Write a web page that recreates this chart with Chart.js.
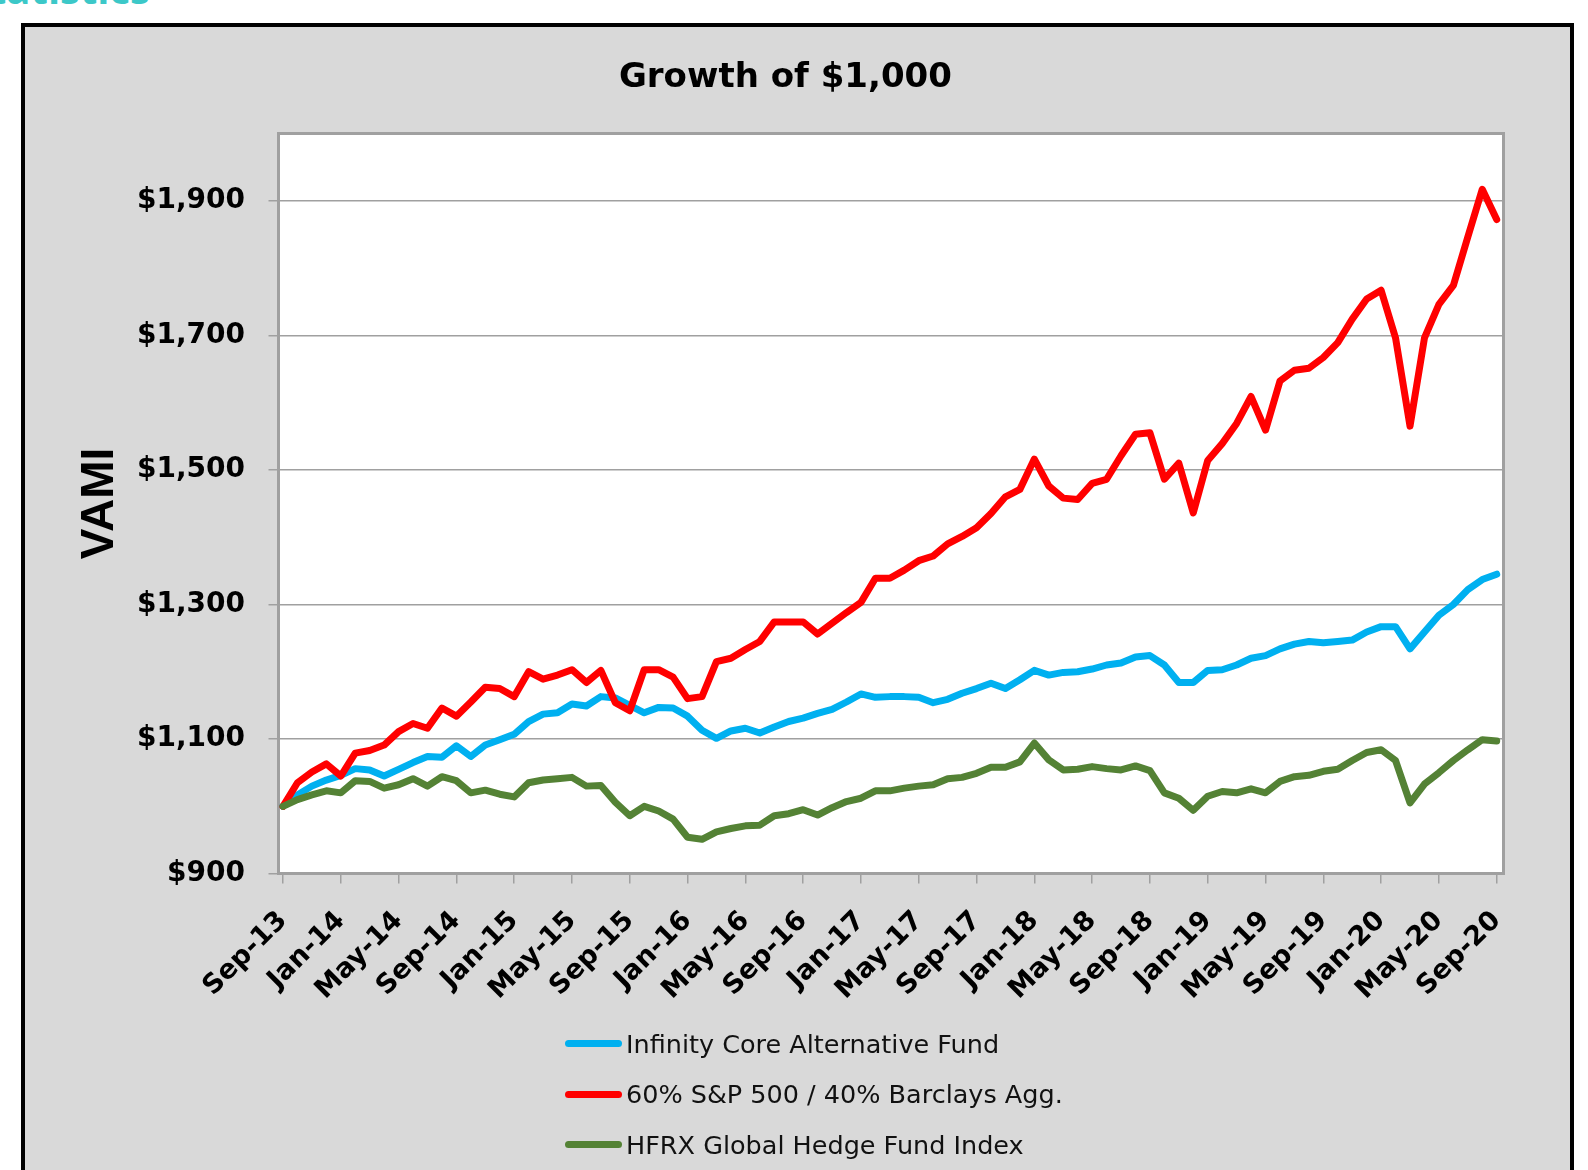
<!DOCTYPE html>
<html>
<head>
<meta charset="utf-8">
<title>Growth of $1,000</title>
<script src="https://cdn.jsdelivr.net/npm/chart.js@4.4.1/dist/chart.umd.min.js"></script>
<style>
  html, body { margin: 0; padding: 0; background: #fff; width: 1588px; height: 1170px; overflow: hidden; }
  #heading { position: absolute; right: 1438px; top: -31px; font: bold 40px 'Open Sans', sans-serif; line-height: 40px; color: #3cc8c8; white-space: nowrap; }
  #frame { position: absolute; left: 21px; top: 23px; width: 1553px; height: 1200px; box-sizing: border-box; border: 4px solid #000; background: #d9d9d9; }
  #chartBox { position: absolute; left: 0; top: 0; width: 1545px; height: 1143px; }
  .legend-row { position: absolute; left: 540px; height: 30px; display: flex; align-items: center; font: 25.5px 'DejaVu Sans', sans-serif; color: #111; white-space: nowrap; }
  .legend-swatch { display: inline-block; width: 57px; height: 7px; border-radius: 4px; margin-right: 4px; }
</style>
</head>
<body>
<div id="heading">Statistics</div>
<div id="frame">
  <div id="chartBox"><canvas id="growthChart" width="1545" height="1143"></canvas></div>
  <div id="legend"></div>
</div>
<script>
// months on the category axis (Sep-13 .. Sep-20)
const months = [
  'Sep-13', 'Oct-13', 'Nov-13', 'Dec-13',
  'Jan-14', 'Feb-14', 'Mar-14', 'Apr-14', 'May-14', 'Jun-14', 'Jul-14', 'Aug-14', 'Sep-14', 'Oct-14', 'Nov-14', 'Dec-14',
  'Jan-15', 'Feb-15', 'Mar-15', 'Apr-15', 'May-15', 'Jun-15', 'Jul-15', 'Aug-15', 'Sep-15', 'Oct-15', 'Nov-15', 'Dec-15',
  'Jan-16', 'Feb-16', 'Mar-16', 'Apr-16', 'May-16', 'Jun-16', 'Jul-16', 'Aug-16', 'Sep-16', 'Oct-16', 'Nov-16', 'Dec-16',
  'Jan-17', 'Feb-17', 'Mar-17', 'Apr-17', 'May-17', 'Jun-17', 'Jul-17', 'Aug-17', 'Sep-17', 'Oct-17', 'Nov-17', 'Dec-17',
  'Jan-18', 'Feb-18', 'Mar-18', 'Apr-18', 'May-18', 'Jun-18', 'Jul-18', 'Aug-18', 'Sep-18', 'Oct-18', 'Nov-18', 'Dec-18',
  'Jan-19', 'Feb-19', 'Mar-19', 'Apr-19', 'May-19', 'Jun-19', 'Jul-19', 'Aug-19', 'Sep-19', 'Oct-19', 'Nov-19', 'Dec-19',
  'Jan-20', 'Feb-20', 'Mar-20', 'Apr-20', 'May-20', 'Jun-20', 'Jul-20', 'Aug-20', 'Sep-20'
];

// labelled ticks on the x axis
const tickLabels = ['Sep-13', 'Jan-14', 'May-14', 'Sep-14', 'Jan-15', 'May-15', 'Sep-15', 'Jan-16', 'May-16', 'Sep-16', 'Jan-17',
  'May-17', 'Sep-17', 'Jan-18', 'May-18', 'Sep-18', 'Jan-19', 'May-19', 'Sep-19', 'Jan-20', 'May-20', 'Sep-20'];

const yTicks = [900, 1100, 1300, 1500, 1700, 1900];

// VAMI values
const infinityCore = [
  1000, 1017, 1030, 1039,
  1046, 1056, 1054, 1045, 1055, 1065, 1074, 1073, 1090, 1074, 1091, 1099,
  1107, 1126, 1137, 1139, 1152, 1149, 1163, 1161, 1150, 1139, 1147, 1146,
  1134, 1113, 1101, 1112, 1116, 1109, 1118, 1126, 1131, 1138, 1144, 1155,
  1167, 1162, 1163, 1163, 1162, 1154, 1159, 1168, 1175, 1183, 1175, 1188,
  1202, 1195, 1199, 1200, 1204, 1210, 1213, 1222, 1224, 1210, 1184, 1184,
  1202, 1203, 1210, 1220, 1224, 1234, 1241, 1245, 1243, 1245, 1247, 1259,
  1267, 1267, 1234, 1259, 1284, 1300, 1322, 1337, 1345
];

const sp6040 = [
  1000, 1035, 1051, 1063,
  1045, 1079, 1083, 1091, 1111, 1123, 1116, 1146, 1134, 1155, 1177, 1175,
  1163, 1200, 1189, 1195, 1203, 1184, 1202, 1154, 1142, 1203, 1203, 1192,
  1160, 1163, 1215, 1220, 1233, 1245, 1274, 1274, 1274, 1256, 1272, 1288,
  1303, 1339, 1339, 1351, 1365, 1372, 1390, 1401, 1414, 1435, 1460, 1471,
  1516, 1476, 1458, 1456, 1480, 1486, 1521, 1553, 1555, 1486, 1510, 1436,
  1514, 1539, 1569, 1609, 1559, 1632, 1648, 1651, 1667, 1689, 1724, 1754,
  1767, 1696, 1565, 1696, 1746, 1774, 1846, 1917, 1872
];

const hfrx = [
  1000, 1010, 1017, 1023,
  1020, 1038, 1037, 1027, 1032, 1041, 1030, 1044, 1038, 1020, 1024, 1018,
  1014, 1035, 1039, 1041, 1043, 1030, 1031, 1006, 986, 1000, 993, 981,
  954, 951, 962, 967, 971, 972, 986, 989, 995, 987, 998, 1007,
  1012, 1023, 1023, 1027, 1030, 1032, 1041, 1043, 1049, 1058, 1058, 1066,
  1094, 1069, 1054, 1055, 1059, 1056, 1054, 1060, 1053, 1020, 1012, 994,
  1015, 1022, 1020, 1026, 1020, 1037, 1044, 1046, 1052, 1055, 1068, 1080,
  1084, 1068, 1005, 1033, 1050, 1068, 1084, 1099, 1097
];

const toPoints = values => values.map((v, i) => ({ x: i, y: v }));

// white plot area with a grey frame, like the Excel original
const plotFrame = {
  id: 'plotFrame',
  beforeDraw(chart) {
    const { ctx, chartArea: a } = chart;
    ctx.save();
    ctx.fillStyle = '#fff';
    ctx.fillRect(a.left, a.top, a.right - a.left, a.bottom - a.top);
    ctx.restore();
  },
  beforeDatasetsDraw(chart) {
    const { ctx, chartArea: a } = chart;
    ctx.save();
    ctx.strokeStyle = '#a0a0a0';
    ctx.lineWidth = 3;
    ctx.beginPath();
    ctx.moveTo(a.left - 1.5, a.top);
    ctx.lineTo(a.right, a.top);
    ctx.lineTo(a.right, a.bottom + 1.5);
    ctx.stroke();
    ctx.restore();
  }
};

const tickFont = { family: "'DejaVu Sans', sans-serif", weight: 'bold', size: 27 };

const chart = new Chart(document.getElementById('growthChart'), {
  type: 'line',
  data: {
    datasets: [
      { label: 'Infinity Core Alternative Fund', data: toPoints(infinityCore), borderColor: '#00b0f0', order: 3 },
      { label: '60% S&P 500 / 40% Barclays Agg.', data: toPoints(sp6040), borderColor: '#ff0000', order: 2 },
      { label: 'HFRX Global Hedge Fund Index', data: toPoints(hfrx), borderColor: '#548235', order: 1 }
    ]
  },
  options: {
    responsive: false,
    animation: false,
    layout: { padding: { left: 42.3, right: 66.5, top: 0, bottom: 0 } },
    elements: {
      line: { borderWidth: 7, tension: 0, borderCapStyle: 'round', borderJoinStyle: 'round', fill: false },
      point: { radius: 0, hoverRadius: 0 }
    },
    plugins: {
      legend: { display: false },
      tooltip: { enabled: false },
      title: {
        display: true,
        text: 'Growth of $1,000',
        color: '#000',
        font: { family: "'DejaVu Sans', sans-serif", weight: 'bold', size: 34 },
        padding: { top: 31, bottom: 34.6 }
      }
    },
    scales: {
      x: {
        type: 'linear',
        min: -0.31,
        max: 84.47,
        afterBuildTicks: s => { s.ticks = tickLabels.map(l => ({ value: months.indexOf(l) })); },
        afterFit: s => { s.height = 296.4; },
        ticks: {
          autoSkip: false, minRotation: 45, maxRotation: 45,
          padding: 21.5, labelOffset: 0,
          color: '#000', font: tickFont,
          callback: v => months[v]
        },
        grid: { drawOnChartArea: false, drawTicks: true, tickLength: 10, color: '#a0a0a0', lineWidth: 1.5 },
        border: { display: true, color: '#a0a0a0', width: 3 }
      },
      y: {
        min: 900,
        max: 2000,
        afterBuildTicks: s => { s.ticks = yTicks.map(v => ({ value: v })); },
        afterFit: s => { s.width = 211.2; },
        ticks: {
          padding: 23.5, color: '#000',
          font: { family: "'DejaVu Sans', sans-serif", weight: 'bold', size: 28 },
          callback: v => '$' + v.toLocaleString('en-US')
        },
        grid: { color: '#a0a0a0', lineWidth: 1.5, tickLength: 10 },
        border: { display: true, color: '#a0a0a0', width: 3 },
        title: {
          display: true, text: 'VAMI', color: '#000',
          font: { family: "'Liberation Sans', sans-serif", weight: 'bold', size: 46 },
          padding: { top: 5, bottom: 0 }
        }
      }
    }
  },
  plugins: [plotFrame]
});

// legend stacked under the plot, built from the datasets
const legend = document.getElementById('legend');
chart.data.datasets.forEach((ds, i) => {
  const row = document.createElement('div');
  row.className = 'legend-row';
  row.style.top = (1001.5 + i * 50.6) + 'px';
  const sw = document.createElement('span');
  sw.className = 'legend-swatch';
  sw.style.background = ds.borderColor;
  row.appendChild(sw);
  row.appendChild(document.createTextNode(ds.label));
  legend.appendChild(row);
});
</script>
</body>
</html>
